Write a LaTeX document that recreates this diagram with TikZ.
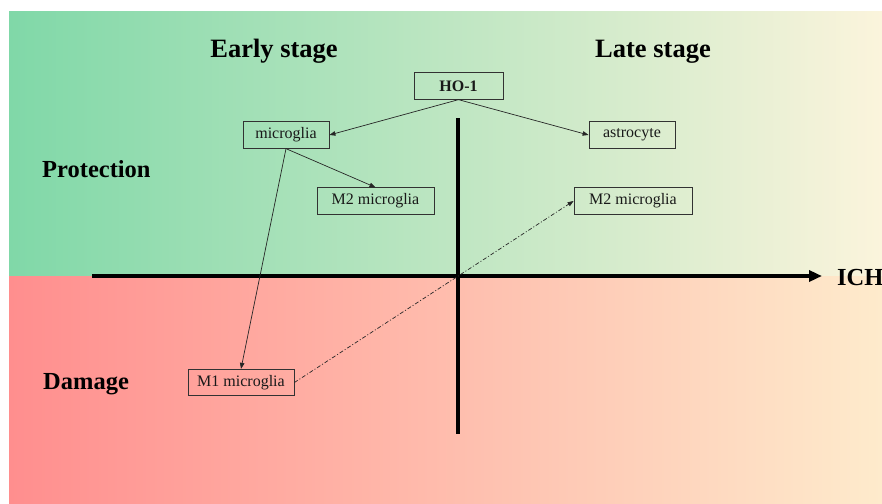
\documentclass[tikz,border=0pt]{standalone}
\usepackage{fontspec}
\setmainfont{Liberation Serif}
\usetikzlibrary{arrows.meta}
\definecolor{gTL}{RGB}{128,216,168}
\definecolor{gTR}{RGB}{251,244,220}
\definecolor{rBL}{RGB}{255,142,142}
\definecolor{rBR}{RGB}{254,235,204}
\definecolor{boxline}{RGB}{50,50,50}
\tikzset{
  box/.style={draw=boxline, line width=0.8pt, minimum height=26.5pt, inner sep=0pt,
    font=\fontsize{16}{19}\selectfont, text=black!90},
  heading/.style={inner sep=0pt, anchor=base, font=\bfseries\fontsize{26.5}{30}\selectfont},
  sidehead/.style={inner sep=0pt, anchor=base west, font=\bfseries\fontsize{24.5}{28}\selectfont},
  conn/.style={line width=0.7pt, draw=black!85, -{Triangle[length=6pt,width=4.5pt]}},
  dconn/.style={conn, dash pattern=on 4pt off 2pt on 1pt off 2pt},
  axis/.style={line width=4pt, draw=black}
}
\begin{document}
\begin{tikzpicture}[x=1pt,y=-1pt]
\useasboundingbox (0,0) rectangle (882,503);
\shade[left color=gTL, right color=gTR] (9,12) rectangle (882,276);
\shade[left color=rBL, right color=rBR] (9,276) rectangle (882,503);

% axes
\coordinate (xs) at (92,276);
\coordinate (xe) at (822,276);
\coordinate (ys) at (458,118);
\coordinate (ye) at (458,434);
\draw[axis, -{Triangle[length=13pt,width=11pt]}] (xs) -- (xe);
\draw[axis] (ys) -- (ye);

% headings
\node[heading] (early) at (274,57) {Early stage};
\node[heading] (late) at (653,57) {Late stage};
\node[sidehead] (prot) at (42,177) {Protection};
\node[sidehead] (dam) at (43,389) {Damage};
\node[sidehead] (ich) at (837,285) {ICH};

% boxes
\node[box, minimum width=89pt, font=\bfseries\fontsize{16}{19}\selectfont] (ho) at (458.5,86) {HO-1};
\node[box, minimum width=86pt] (mic) at (286,135) {microglia};
\node[box, minimum width=117pt] (m2a) at (375.5,201) {M2 microglia};
\node[box, minimum width=86pt] (ast) at (632,135) {astrocyte};
\node[box, minimum width=118pt] (m2b) at (633,201) {M2 microglia};
\node[box, minimum width=106pt] (m1) at (241,382.5) {M1 microglia};

% connectors
\draw[conn] (ho.south) -- (mic.east);
\draw[conn] (ho.south) -- (ast.west);
\draw[conn] (mic.south) -- (m2a.north);
\draw[conn] (mic.south) -- (m1.north);
\draw[dconn] (m1.east) -- (m2b.west);
\end{tikzpicture}
\end{document}
